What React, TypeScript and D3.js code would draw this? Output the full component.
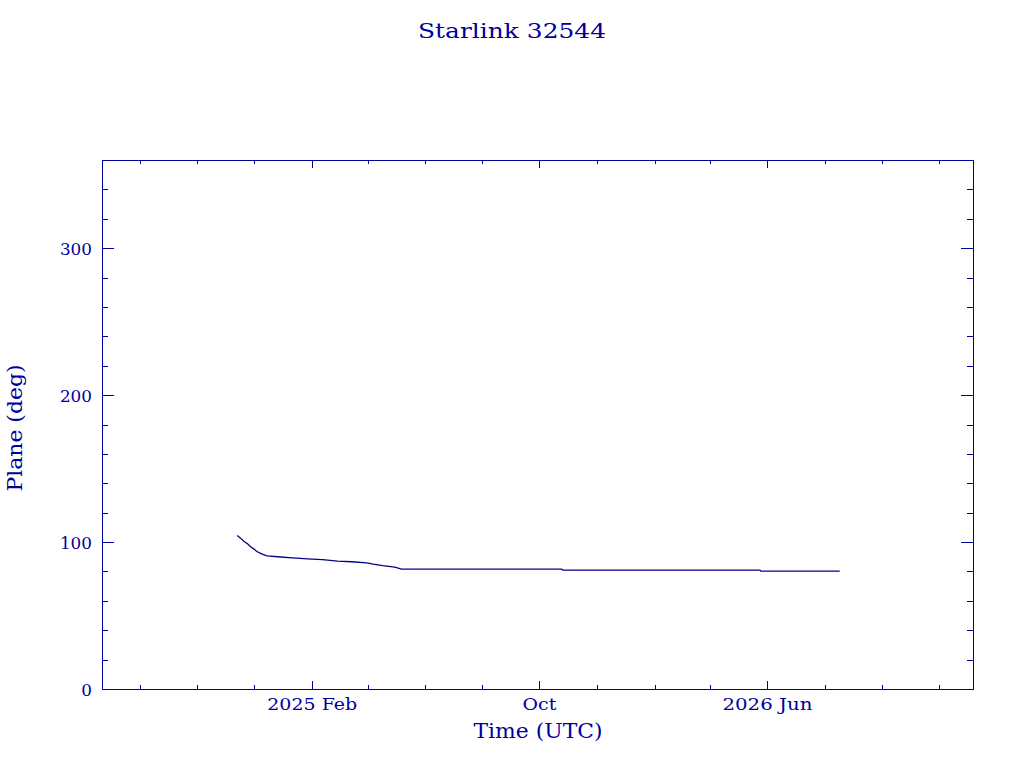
import React from "react";
import * as d3 from "d3";

const TITLE = "Starlink 32544";
const X_LABEL = "Time (UTC)";
const Y_LABEL = "Plane (deg)";

const dates = [
  "2024-11-13", "2024-11-17", "2024-11-20", "2024-11-24", "2024-11-27", "2024-12-01",
  "2024-12-04", "2024-12-08", "2024-12-11", "2024-12-15", "2024-12-26",
  "2025-01-11", "2025-01-27", "2025-02-12", "2025-02-28", "2025-03-15", "2025-03-31",
  "2025-04-07", "2025-04-17", "2025-04-30", "2025-05-07", "2025-10-25", "2025-10-26",
  "2026-05-24", "2026-05-25", "2026-08-17",
];
const planeDeg = [
  104.5, 102.5, 100.6, 98.9, 97.0, 95.2,
  93.6, 92.3, 91.4, 90.6, 90.0,
  89.3, 88.6, 88.0, 87.0, 86.6, 85.9,
  85.0, 84.0, 82.9, 81.6, 81.6, 80.9,
  80.9, 80.2, 80.2,
];

const xDomain = ["2024-06-22", "2027-01-06"];
const xMajorTicks = ["2025-02-01", "2025-10-01", "2026-06-01"];
const xMajorLabels = ["2025 Feb", "Oct", "2026 Jun"];
const xMinorMonths = 2;

const yDomain = [0, 360];
const yMajorTicks = [0, 100, 200, 300];
const yMinorStep = 20;

const parse = d3.utcParse("%Y-%m-%d");
const P = (s: string) => parse(s)!;

const COLOR = "#00009c";
const FONT = "'DejaVu Serif', 'Liberation Serif', serif";

export default function App() {
  const W = 1024, H = 768;
  const left = 102, right = 973, top = 160, bottom = 689;
  const x = d3.scaleUtc().domain(xDomain.map(P)).range([left, right]);
  const y = d3.scaleLinear().domain(yDomain).range([bottom, top]);

  const pts = dates.map((d, i) => [P(d), planeDeg[i]] as [Date, number]);
  const line = d3.line<[Date, number]>().x((d) => x(d[0])).y((d) => y(d[1]));

  const xTicks = d3.utcMonth
    .range(P(xDomain[0]), P(xDomain[1]))
    .filter((d) => d.getUTCMonth() % xMinorMonths === 1);
  const majorSet = new Set(xMajorTicks.map((s) => P(s).getTime()));
  const yMinor: number[] = [];
  for (let v = yDomain[0] + yMinorStep; v < yDomain[1]; v += yMinorStep) yMinor.push(v);
  const isMajorY = (v: number) => yMajorTicks.some((m) => Math.abs(m - v) < 1e-6);

  return (
    <svg width={W} height={H} style={{ position: "absolute", left: 0, top: 0 }}>
      <rect width={W} height={H} fill="#ffffff" />
      <text x={512} y={38} textAnchor="middle" fill={COLOR} fontFamily={FONT} fontSize={21}
        textLength={188} lengthAdjust="spacingAndGlyphs">{TITLE}</text>

      <g stroke={COLOR} strokeWidth={1} shapeRendering="crispEdges">
        <rect x={left} y={top} width={right - left} height={bottom - top} fill="none" />
        {xTicks.map((d, i) => {
          const L = majorSet.has(d.getTime()) ? 8 : 4;
          const px = Math.round(x(d)) + 0.5;
          return (
            <g key={"xm" + i}>
              <line x1={px} x2={px} y1={bottom} y2={bottom - L} />
              <line x1={px} x2={px} y1={top} y2={top + L} />
            </g>
          );
        })}
        {yMinor.map((v, i) => {
          const L = isMajorY(v) ? 12 : 6;
          const py = Math.round(y(v)) + 0.5;
          return (
            <g key={"ym" + i}>
              <line x1={left} x2={left + L} y1={py} y2={py} />
              <line x1={right} x2={right - L} y1={py} y2={py} />
            </g>
          );
        })}
      </g>

      <path d={line(pts) || ""} fill="none" stroke="#000088" strokeWidth={1.3} />

      <g fill={COLOR} fontFamily={FONT} fontSize={17}>
        {yMajorTicks.map((v) => (
          <text key={"yl" + v} x={92} y={y(v) + 6.5} textAnchor="end"
            textLength={String(v).length * 10.7} lengthAdjust="spacingAndGlyphs">{v}</text>
        ))}
        {xMajorTicks.map((s, i) => (
          <text key={"xl" + i} x={x(P(s))} y={710} textAnchor="middle"
            textLength={xMajorLabels[i].length * 11.25} lengthAdjust="spacingAndGlyphs">{xMajorLabels[i]}</text>
        ))}
      </g>
      <text x={538} y={738} textAnchor="middle" fill={COLOR} fontFamily={FONT} fontSize={20}
        textLength={129} lengthAdjust="spacingAndGlyphs">{X_LABEL}</text>
      <text transform={`translate(22,428) rotate(-90)`} textAnchor="middle" fill={COLOR}
        fontFamily={FONT} fontSize={20} textLength={127} lengthAdjust="spacingAndGlyphs">{Y_LABEL}</text>
    </svg>
  );
}
